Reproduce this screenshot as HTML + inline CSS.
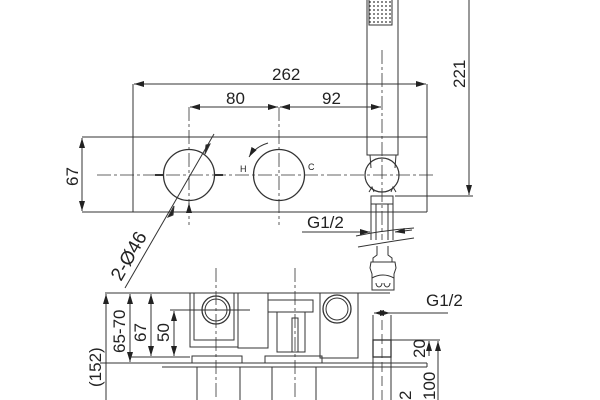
<!DOCTYPE html>
<html><head><style>html,body{margin:0;padding:0;background:#fff}svg{display:block}text{font-family:"Liberation Sans",sans-serif;fill:#222}</style></head><body>
<svg width="600" height="400" viewBox="0 0 600 400" xmlns="http://www.w3.org/2000/svg">
<defs>
<marker id="a" markerWidth="10" markerHeight="6" refX="10" refY="3" orient="auto-start-reverse" markerUnits="userSpaceOnUse"><path d="M0,0L10,3L0,6z" fill="#222"/></marker>
<pattern id="dots" width="4" height="4" patternUnits="userSpaceOnUse"><circle cx="2" cy="2" r="0.9" fill="#333"/></pattern>
</defs>
<g stroke="#333" stroke-width="1" fill="none">
<line x1="82" y1="137" x2="427" y2="137"/>
<line x1="82" y1="212" x2="427" y2="212"/>
<line x1="133" y1="84" x2="133" y2="212"/>
<line x1="427" y1="84" x2="427" y2="212"/>
<line x1="82" y1="138" x2="82" y2="211" marker-start="url(#a)" marker-end="url(#a)"/>
<line x1="134" y1="84" x2="426" y2="84" marker-start="url(#a)" marker-end="url(#a)"/>
<line x1="190" y1="107" x2="278" y2="107" marker-start="url(#a)" marker-end="url(#a)"/>
<line x1="280" y1="107" x2="381" y2="107" marker-start="url(#a)" marker-end="url(#a)"/>
<g stroke-dasharray="14,3,3,3" stroke-width="0.8">
<line x1="97" y1="175" x2="435" y2="175"/>
<line x1="189" y1="107" x2="189" y2="225"/>
<line x1="279" y1="107" x2="279" y2="225"/>
<line x1="382" y1="50" x2="382" y2="240"/>
</g>
<circle cx="189" cy="175" r="25.5" stroke-width="1.3"/>
<circle cx="279" cy="175" r="25.5" stroke-width="1.3"/>
<line x1="155" y1="175" x2="163" y2="175" stroke-width="2"/>
<line x1="215" y1="175" x2="223" y2="175" stroke-width="2"/>
<path d="M268,143 Q255,147 249,157" marker-end="url(#a)"/>
<line x1="214" y1="134" x2="125" y2="288"/>
<path d="M210,144l-5,10l1,-9z" fill="#222"/>
<path d="M168,217l6,-11l-1,9z" fill="#222"/>
<line x1="189" y1="212" x2="189" y2="203" marker-end="url(#a)"/>
<rect x="367" y="-2" width="31" height="157"/>
<rect x="369" y="-2" width="23" height="27" fill="url(#dots)"/>
<line x1="370" y1="155" x2="371" y2="168"/>
<line x1="396" y1="155" x2="395" y2="168"/>
<circle cx="382" cy="175" r="17" stroke-width="1.2"/>
<line x1="469" y1="0" x2="469" y2="195" marker-end="url(#a)"/>
<line x1="395" y1="196" x2="473" y2="196"/>
<rect x="371" y="196" width="22" height="8"/>
<path d="M369,192l3,-5l2,5M396,192l-3,-5l-2,5"/>
<line x1="371" y1="204" x2="371" y2="240"/><line x1="393" y1="204" x2="393" y2="240"/>
<line x1="376" y1="204" x2="376" y2="240"/><line x1="388" y1="204" x2="388" y2="240"/>
<line x1="302" y1="232" x2="370" y2="232" marker-end="url(#a)"/>
<line x1="412" y1="230" x2="395" y2="232" marker-end="url(#a)"/>
<path d="M356,236 Q385,230 414,228M358,247 Q387,242 414,238"/>
<path d="M377,246 L377,255 L373,258 L373,262 L392,262 L392,258 L388,255 L388,246"/>
<path d="M371,262 L370,268 L372,274 L372,290 L394,290 L394,274 L396,268 L395,262z"/>
<path d="M372,278 Q383,272 394,278M376,283 a3,4 0 0 0 6,0M384,283 a3,4 0 0 0 6,0"/>
<line x1="105" y1="293" x2="390" y2="293"/>
<line x1="106" y1="294" x2="106" y2="400" marker-start="url(#a)"/>
<line x1="130" y1="294" x2="130" y2="362" marker-start="url(#a)" marker-end="url(#a)"/>
<line x1="151" y1="294" x2="151" y2="356" marker-start="url(#a)" marker-end="url(#a)"/>
<line x1="174" y1="311" x2="174" y2="356" marker-start="url(#a)" marker-end="url(#a)"/>
<line x1="170" y1="310" x2="250" y2="310"/>
<line x1="130" y1="357" x2="190" y2="357"/>
<line x1="100" y1="363" x2="427" y2="363"/>
<line x1="162" y1="367" x2="427" y2="367"/>
<line x1="427" y1="363" x2="427" y2="367"/>
<rect x="190" y="293" width="48" height="54"/>
<rect x="194" y="293" width="40" height="47"/>
<circle cx="216" cy="310" r="14" stroke-width="1.3"/>
<circle cx="216" cy="310" r="11"/>
<line x1="216" y1="268" x2="216" y2="400" stroke-dasharray="14,3,3,3" stroke-width="0.8"/>
<rect x="238" y="293" width="30" height="55"/>
<rect x="277" y="312" width="28" height="40"/>
<rect x="268" y="300" width="45" height="12"/>
<line x1="295" y1="268" x2="295" y2="400" stroke-dasharray="14,3,3,3" stroke-width="0.8"/>
<rect x="292" y="318" width="6" height="34"/>
<rect x="320" y="293" width="38" height="65"/>
<circle cx="337" cy="309" r="14" stroke-width="1.3"/>
<circle cx="337" cy="309" r="11"/>
<rect x="192" y="356" width="50" height="7"/>
<rect x="265" y="356" width="57" height="7"/>
<rect x="197" y="367" width="43" height="40"/>
<rect x="272" y="367" width="44" height="40"/>
<line x1="373" y1="315" x2="373" y2="400"/>
<line x1="391" y1="315" x2="391" y2="400"/>
<rect x="373" y="340" width="18" height="17" stroke-width="1.3"/>
<line x1="382" y1="320" x2="382" y2="400" stroke-dasharray="10,4" stroke-width="0.8"/>
<line x1="374" y1="313" x2="390" y2="313" marker-start="url(#a)" marker-end="url(#a)"/>
<line x1="390" y1="313" x2="448" y2="313"/>
<line x1="391" y1="340" x2="440" y2="340"/>
<line x1="429" y1="341" x2="429" y2="356" marker-start="url(#a)"/>
<line x1="438" y1="341" x2="438" y2="400" marker-start="url(#a)"/>
<line x1="395" y1="363" x2="420" y2="363"/>
</g>
<g font-size="17">
<text x="272" y="80">262</text>
<text x="226" y="104">80</text>
<text x="322" y="104">92</text>
<text x="307" y="228">G1/2</text>
<text transform="translate(78,186) rotate(-90)">67</text>
<text transform="translate(465,88) rotate(-90)">221</text>
<text font-size="19" transform="translate(121,282) rotate(-60)">2-Ø46</text>
<text transform="translate(101,387) rotate(-90)">(152)</text>
<text transform="translate(125,353) rotate(-90)">65-70</text>
<text transform="translate(146,342) rotate(-90)">67</text>
<text transform="translate(169,342) rotate(-90)">50</text>
<text x="426" y="306">G1/2</text>
<text transform="translate(425,358) rotate(-90)">20</text>
<text transform="translate(435,400) rotate(-90)">100</text>
<text transform="translate(411,400) rotate(-90)">2</text>
</g>
<text x="240" y="172" font-size="9">H</text>
<text x="308" y="170" font-size="9">C</text>
</svg>
</body></html>
